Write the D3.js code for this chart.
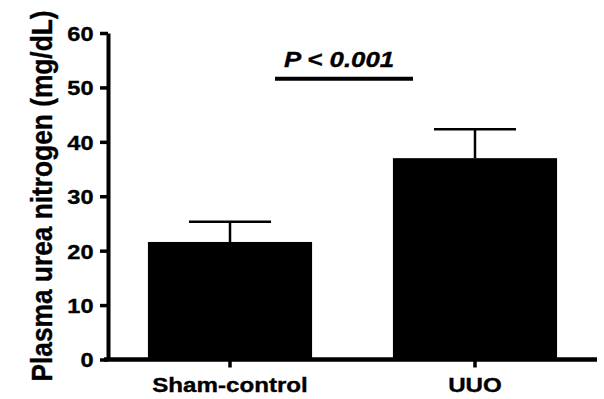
<!DOCTYPE html>
<html>
<head>
<meta charset="utf-8">
<script src="https://cdn.jsdelivr.net/npm/d3@7"></script>
<style>
  body { margin: 0; background: #fff; }
  svg text { font-family: "Liberation Sans", Arial, sans-serif; font-weight: bold; fill: #000; stroke: #000; stroke-width: 0.35px; }
</style>
</head>
<body>
<div id="chart-container"></div>
<script>
var groups = ['Sham-control', 'UUO'];
var means = [21.6, 37.0];
var errors = [3.7, 5.3];
var yTicks = [0, 10, 20, 30, 40, 50, 60];
var yLabel = 'Plasma urea nitrogen (mg/dL)';
var pLabel = 'P < 0.001';
var sigLevel = 51.6;

var width = 604, height = 399;
var stretch = 1.15; // text in the picture is a bit wide

var svg = d3.select('#chart-container')
            .append('svg')
            .attr('width', width)
            .attr('height', height);

var y = d3.scaleLinear().domain([0, 60]).range([359.5, 33]);
var x = d3.scaleBand()
          .domain(groups)
          .range([108, 597])
          .paddingInner(0.33)
          .paddingOuter(0.163);

// bars
svg.selectAll('rect.bar')
   .data(groups)
   .enter()
   .append('rect')
     .attr('class', 'bar')
     .attr('x', function(d) { return x(d); })
     .attr('y', function(d, i) { return y(means[i]); })
     .attr('width', x.bandwidth())
     .attr('height', function(d, i) { return y(0) - y(means[i]); })
     .attr('fill', '#000');

// error bars (upper only)
var eb = svg.selectAll('g.err')
            .data(groups)
            .enter()
            .append('g')
              .attr('class', 'err')
              .attr('stroke', '#000')
              .attr('stroke-width', 2.5);
eb.append('line')
  .attr('x1', function(d) { return x(d) + x.bandwidth() / 2; })
  .attr('x2', function(d) { return x(d) + x.bandwidth() / 2; })
  .attr('y1', function(d, i) { return y(means[i]); })
  .attr('y2', function(d, i) { return y(means[i] + errors[i]); });
eb.append('line')
  .attr('x1', function(d) { return x(d) + x.bandwidth() / 4; })
  .attr('x2', function(d) { return x(d) + x.bandwidth() * 3 / 4; })
  .attr('y1', function(d, i) { return y(means[i] + errors[i]); })
  .attr('y2', function(d, i) { return y(means[i] + errors[i]); });

// axes
var yAxis = svg.append('g')
               .attr('transform', 'translate(108,0)')
               .call(d3.axisLeft(y).tickValues(yTicks).tickSize(8).tickSizeOuter(0).tickPadding(6.5));
yAxis.select('.domain').attr('stroke-width', 4);
yAxis.selectAll('.tick line').attr('stroke-width', 3.5);
yAxis.selectAll('.tick text')
     .attr('font-size', 20.5)
     .attr('dy', '0.36em')
     .each(function() {
        var t = d3.select(this);
        var tx = +t.attr('x');
        t.attr('x', 0).attr('transform', 'translate(' + tx + ',0) scale(' + stretch + ',1)');
     });

var xAxis = svg.append('g')
               .attr('transform', 'translate(0,' + y(0) + ')')
               .call(d3.axisBottom(x).tickSize(8).tickSizeOuter(0).tickPadding(9.3));
xAxis.select('.domain').attr('stroke-width', 4.5).attr('d', 'M104,0H597');
xAxis.selectAll('.tick line').attr('stroke-width', 3.5);
xAxis.selectAll('.tick text')
     .attr('font-size', 21)
     .each(function() {
        var t = d3.select(this);
        var ty = +t.attr('y');
        t.attr('y', 0).attr('transform', 'translate(0,' + ty + ') scale(' + stretch + ',1)');
     });
svg.selectAll('.domain, .tick line').attr('stroke', '#000');

// y title
svg.append('text')
   .attr('transform', 'translate(51.7,196) scale(' + stretch + ',1) rotate(-90)')
   .attr('text-anchor', 'middle')
   .attr('font-size', 26.3)
   .text(yLabel);

// significance
svg.append('line')
   .attr('x1', 275)
   .attr('x2', 413)
   .attr('y1', y(sigLevel))
   .attr('y2', y(sigLevel))
   .attr('stroke', '#000')
   .attr('stroke-width', 4);
svg.append('text')
   .attr('transform', 'translate(339,' + (y(sigLevel) - 12) + ') scale(1.2,1)')
   .attr('text-anchor', 'middle')
   .attr('font-size', 21.5)
   .attr('font-style', 'italic')
   .text(pLabel);
</script>
</body>
</html>
